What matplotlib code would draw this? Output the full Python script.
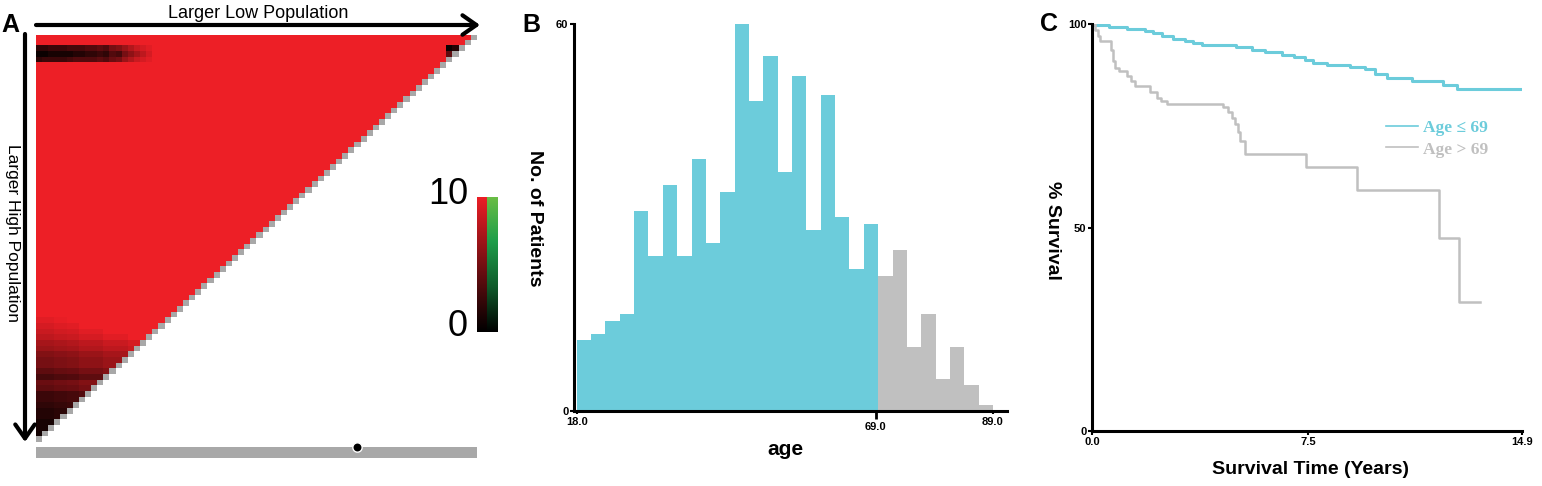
import numpy as np
import matplotlib
matplotlib.use('Agg')
import matplotlib.pyplot as plt
from matplotlib.colors import LinearSegmentedColormap, ListedColormap
from matplotlib.patches import FancyArrowPatch

plt.rcParams['font.family'] = ['Liberation Sans', 'DejaVu Sans']

# ---- Panel A: heatmap values (0-10 scale, most cells saturate at 10) ----
n_cells = 72
top_band = {
    2: [2, 2, 2.5, 2.5, 2.5, 3, 3, 3, 3.5, 3.5, 4, 3.5, 5, 5.5, 6.5, 7.5, 8.5, 9, 9.5],
    3: [0.5, 0.5, 1, 1, 1, 1, 1.5, 1.5, 2, 2, 2.5, 2, 3.5, 3, 5, 6, 7, 8, 9],
    4: [2, 2.5, 2.5, 2.5, 2.5, 3, 3.5, 3.5, 3.5, 3.5, 4, 3.5, 4.5, 5, 6.5, 7.5, 8.5, 9, 9.5],
}
top_right = [(2, 67, 0.5), (2, 68, 1.5), (3, 67, 4.0)]
bottom_rows = [9.5, 9, 8.5, 8, 7, 6.5, 5.5, 5, 5, 4, 3, 4.5, 4, 2.5, 2.5, 2, 1.5, 1.5, 1, 1, 0.8]
bottom_first_row = 50
col_lift = [0, 0, 0, 0.3, 0.3, 0.5, 0.5, 1, 1, 1, 1, 1.5, 1.5, 1.5, 1.5, 2, 2, 2, 2, 2.5, 2.5, 2.5]
dot_pos = 52.4

# ---- Panel B: age histogram ----
age_lo, age_hi = 18.0, 89.0
counts_young = [11, 12, 14, 15, 31, 24, 35, 24, 39, 26, 34, 60, 48, 55, 37, 52, 28, 49, 30, 22, 29]
counts_old = [21, 25, 10, 15, 5, 10, 4, 1]
age_ticks = [18.0, 69.0, 89.0]

# ---- Panel C: Kaplan-Meier curves ----
young_t = [0, 0.05, 0.6, 1.2, 1.84, 2.1, 2.41, 2.8, 3.22, 3.5, 3.8, 4.2, 5.0, 5.53, 6.0,
           6.57, 7.0, 7.38, 7.67, 8.13, 8.94, 9.46, 9.8, 10.21, 11.08, 12.17, 12.64, 14.9]
young_s = [100, 99.8, 99.3, 98.8, 98.4, 97.8, 97.0, 96.4, 95.8, 95.3, 94.9, 94.8, 94.3, 93.5, 93.0,
           92.5, 92.0, 91.2, 90.4, 90.0, 89.4, 89.0, 87.7, 86.7, 85.9, 85.1, 84.1, 84.1]
old_t = [0, 0.1, 0.2, 0.28, 0.66, 0.72, 0.8, 0.92, 1.2, 1.35, 1.49, 2.01, 2.24, 2.4, 2.59,
         4.55, 4.72, 4.85, 4.95, 5.05, 5.13, 5.3, 7.4, 9.19, 12.02, 12.72, 13.44]
old_s = [100, 98.5, 97, 95.8, 93.5, 91, 89.2, 88.5, 87.3, 86.0, 84.7, 83.2, 81.8, 81.0, 80.3,
         79.5, 78.5, 77, 75.5, 73.5, 71.2, 68.1, 64.9, 59.2, 47.5, 31.8, 31.8]

blue = '#6CCCDB'
grey = '#C0C0C0'

W, H = 1542, 486
fig = plt.figure(figsize=(W / 100, H / 100), dpi=100)


def box(x0, y0, x1, y1):
    return fig.add_axes([x0 / W, 1 - y1 / H, (x1 - x0) / W, (y1 - y0) / H])


def pt(x, y):
    return (x / W, 1 - y / H)


# ================= Panel A =================
grid = np.full((n_cells, n_cells), np.nan)
rr, cc = np.indices((n_cells, n_cells))
grid[rr + cc < n_cells - 1] = 10
for r, vals in top_band.items():
    grid[r, :len(vals)] = vals
for r, c, v in top_right:
    grid[r, c] = v
for k, v in enumerate(bottom_rows):
    r = bottom_first_row + k
    m = n_cells - 1 - r
    grid[r, :m] = np.minimum(10, v + np.array(col_lift[:m]))
diag = np.where(rr + cc == n_cells - 1, 1.0, np.nan)

red_k = LinearSegmentedColormap.from_list('rk', ['#000000', '#ED1F26'])
green_k = LinearSegmentedColormap.from_list('gk', ['#000000', '#0f5a2a', '#1E9E4A', '#6CBE45'])

axA = box(36, 35, 477, 442)
axA.imshow(grid, cmap=red_k, vmin=0, vmax=10, aspect='auto', interpolation='nearest',
           extent=[0, n_cells, n_cells, 0])
axA.imshow(diag, cmap=ListedColormap(['#A8A8A8']), aspect='auto', interpolation='nearest',
           extent=[0, n_cells, n_cells, 0])
axA.axis('off')

axCb = box(477, 197, 497, 332)
grad = np.linspace(0, 10, 256)[:, None]
axCb.imshow(grad, cmap=red_k, origin='lower', extent=[0, 1, 0, 10], aspect='auto')
axCb.imshow(grad, cmap=green_k, origin='lower', extent=[1, 2, 0, 10], aspect='auto')
axCb.set_xlim(0, 2)
axCb.axis('off')
fig.text(*pt(468, 195), '10', fontsize=26, ha='right', va='center')
fig.text(*pt(468, 327), '0', fontsize=26, ha='right', va='center')

axBar = box(36, 447, 477, 458)
axBar.set_facecolor('#A8A8A8')
axBar.set_xlim(0, n_cells)
axBar.set_ylim(0, 1)
axBar.set_xticks([])
axBar.set_yticks([])
for s in axBar.spines.values():
    s.set_visible(False)
axBar.scatter([dot_pos], [1], s=45, color='black', edgecolor='white', linewidth=1,
              clip_on=False, zorder=5)

fig.add_artist(FancyArrowPatch(pt(36, 25), pt(480, 25), transform=fig.transFigure,
                               arrowstyle='->,head_length=0.5,head_width=0.35',
                               mutation_scale=20, lw=3, color='black', shrinkA=0, shrinkB=0))
fig.add_artist(FancyArrowPatch(pt(25, 34), pt(25, 442), transform=fig.transFigure,
                               arrowstyle='->,head_length=0.5,head_width=0.35',
                               mutation_scale=20, lw=3, color='black', shrinkA=0, shrinkB=0))
fig.text(*pt(258, 13), 'Larger Low Population', fontsize=13, ha='center', va='center')
fig.text(*pt(12, 233), 'Larger High Population', fontsize=12.5, ha='center', va='center',
         rotation=-90)
fig.text(*pt(10, 25), 'A', fontsize=18, fontweight='bold', ha='center', va='center')

# ================= Panel B =================
n_bins = len(counts_young) + len(counts_old)
edges = np.linspace(age_lo, age_hi, n_bins + 1)
widths = np.diff(edges)
ny = len(counts_young)

axB = box(574, 24, 1007, 411)
axB.bar(edges[:ny], counts_young, width=widths[:ny], align='edge', color=blue, linewidth=0)
axB.bar(edges[ny:-1], counts_old, width=widths[ny:], align='edge', color=grey, linewidth=0)
px_per = (993 - 576.7) / (age_hi - age_lo)
axB.set_xlim(age_lo - (576.7 - 574) / px_per, age_hi + (1007 - 993) / px_per)
axB.set_ylim(0, 60)
for s in ['top', 'right']:
    axB.spines[s].set_visible(False)
for s in ['left', 'bottom']:
    axB.spines[s].set_linewidth(2.2)
axB.set_yticks([0, 60])
axB.set_yticklabels(['0', '60'], fontsize=8, fontweight='bold')
axB.tick_params(axis='y', length=3, width=1.5, pad=1)
axB.set_xticks([age_ticks[1]])
axB.set_xticklabels(['%.1f' % age_ticks[1]], fontsize=8, fontweight='bold')
axB.set_xticks([age_ticks[0], age_ticks[2]], minor=True)
axB.set_xticklabels(['%.1f' % age_ticks[0], '%.1f' % age_ticks[2]], minor=True,
                    fontsize=8, fontweight='bold')
axB.tick_params(axis='x', which='major', length=6, width=2, pad=2)
axB.tick_params(axis='x', which='minor', length=2, width=1.5, pad=2)
fig.text(*pt(785, 449), 'age', fontsize=15, fontweight='bold', ha='center', va='center')
fig.text(*pt(535, 218), 'No. of Patients', fontsize=14, fontweight='bold', ha='center',
         va='center', rotation=-90)
fig.text(*pt(531, 25), 'B', fontsize=18, fontweight='bold', ha='center', va='center')

# ================= Panel C =================
axC = box(1092, 24, 1522, 431)
axC.step(young_t, young_s, where='post', color=blue, lw=2.2, label='Age \u2264 69')
axC.step(old_t, old_s, where='post', color=grey, lw=1.8, label='Age > 69')
axC.set_xlim(0, 14.9)
axC.set_ylim(0, 100)
for s in ['top', 'right']:
    axC.spines[s].set_visible(False)
for s in ['left', 'bottom']:
    axC.spines[s].set_linewidth(2.2)
axC.set_yticks([0, 50, 100])
axC.set_yticklabels(['0', '50', '100'], fontsize=8, fontweight='bold')
axC.set_xticks([0, 7.5, 14.9])
axC.set_xticklabels(['0.0', '7.5', '14.9'], fontsize=8, fontweight='bold')
axC.tick_params(axis='both', length=3, width=1.5, pad=1)
leg = axC.legend(loc='center left', bbox_to_anchor=(0.684, 0.718), frameon=False,
                 prop={'family': ['Liberation Serif', 'DejaVu Serif'], 'weight': 'bold', 'size': 12.5},
                 handlelength=1.85, handletextpad=0.3, labelspacing=0.3, borderpad=0,
                 borderaxespad=0, labelcolor='linecolor')
for h in leg.get_lines():
    h.set_linewidth(1.2)
fig.text(*pt(1310, 469), 'Survival Time (Years)', fontsize=14, fontweight='bold',
         ha='center', va='center')
fig.text(*pt(1052, 230), '% Survival', fontsize=14, fontweight='bold', ha='center',
         va='center', rotation=-90)
fig.text(*pt(1049, 24), 'C', fontsize=18, fontweight='bold', ha='center', va='center')

fig.savefig('out.png', dpi=100)
